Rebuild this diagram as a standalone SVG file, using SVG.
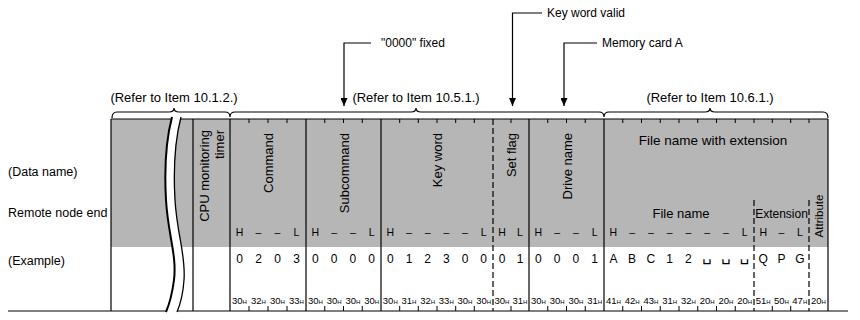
<svg xmlns="http://www.w3.org/2000/svg" width="860" height="320" viewBox="0 0 860 320">
<defs>
<style>
.t{font-family:"Liberation Sans",Arial,sans-serif;fill:#000}
.lbl{font-size:12.5px}
.ref{font-size:13px;text-anchor:middle}
.co{font-size:12px}
.hd{font-size:13px;text-anchor:end}
.hl{font-size:10.5px;text-anchor:middle}
.ex{font-size:12px;text-anchor:middle}
.hx{font-size:9.5px;text-anchor:middle}
.sub{font-size:6px}
.sp{font-family:"DejaVu Sans",sans-serif;font-size:15px}
.ln{stroke:#000;stroke-width:1.2;fill:none}
.dash{stroke-dasharray:6 3}
.tk{stroke:#000;stroke-width:1;fill:none}
</style>
<marker id="ah" markerWidth="8" markerHeight="7" refX="8" refY="3.5" orient="auto" markerUnits="userSpaceOnUse">
<path d="M0,0 L8,3.5 L0,7 Z" fill="#000"/>
</marker>
</defs>
<rect x="0" y="0" width="860" height="320" fill="#fff"/>

<!-- table body -->
<g id="table">
<rect x="111" y="119" width="717" height="128" fill="#b6b6b6"/>
<rect x="111" y="247" width="717" height="64" fill="#fff"/>
<line class="ln" x1="111" y1="119" x2="828" y2="119" stroke-width="2"/>
<line class="ln" x1="8" y1="311" x2="848" y2="311" stroke-width="1.5"/>
<line class="ln" x1="111" y1="119" x2="111" y2="311" stroke-width="1.5"/>
<line class="ln" x1="828" y1="119" x2="828" y2="311" stroke-width="1.5"/>
<line class="ln" x1="193" y1="119" x2="193" y2="311" stroke-width="1"/>
<line class="ln" x1="230" y1="119" x2="230" y2="311"/>
<line class="ln" x1="306" y1="119" x2="306" y2="311"/>
<line class="ln" x1="381" y1="119" x2="381" y2="311"/>
<line class="ln dash" x1="493" y1="119" x2="493" y2="311"/>
<line class="ln" x1="529" y1="119" x2="529" y2="311"/>
<line class="ln" x1="604" y1="119" x2="604" y2="311"/>
<line class="ln dash" x1="754" y1="200" x2="754" y2="311"/>
<line class="ln dash" x1="809" y1="200" x2="809" y2="311"/>
<path class="tk" d="M249,119v4M268,119v4M287,119v4M324.75,119v4M343.5,119v4M362.25,119v4M399.7,119v4M418.3,119v4M437,119v4M455.7,119v4M474.3,119v4M511,119v4M547.75,119v4M566.5,119v4M585.25,119v4M622.75,119v4M641.5,119v4M660.25,119v4M679,119v4M697.75,119v4M716.5,119v4M735.25,119v4M754,119v4M772.3,119v4M790.7,119v4M809,119v4"/>
<path class="tk" d="M249,311v-5M268,311v-5M287,311v-5M324.75,311v-5M343.5,311v-5M362.25,311v-5M399.7,311v-5M418.3,311v-5M437,311v-5M455.7,311v-5M474.3,311v-5M511,311v-5M547.75,311v-5M566.5,311v-5M585.25,311v-5M622.75,311v-5M641.5,311v-5M660.25,311v-5M679,311v-5M697.75,311v-5M716.5,311v-5M735.25,311v-5M772.3,311v-5M790.7,311v-5"/>
<!-- break -->
<path d="M172,116 C166,140 164,165 166,200 C168,235 177,255 174,280 C172,295 169,305 166,313 L177,313 C180,305 183,295 184,280 C186,255 177,235 175,200 C173,165 175,140 181,116 Z" fill="#fff"/>
<path d="M172,117 C166,140 164,165 166,200 C168,235 177,255 174,280 C172,295 169,305 166,312" fill="none" stroke="#000" stroke-width="2"/>
<path d="M181,117 C175,140 173,165 175,200 C177,235 186,255 184,280 C183,295 180,305 177,312" fill="none" stroke="#000" stroke-width="1.3"/>
</g>

<!-- braces -->
<g id="braces">
<path class="ln" d="M112,118 Q112,112 117,112 L169,112 Q174,112 174,108 Q174,112 179,112 L225,112 Q230,112 230,117 Q230,112 235,112 L411,112 Q416,112 416,108 Q416,112 421,112 L599,112 Q604,112 604,117 Q604,112 609,112 L705,112 Q710,112 710,108 Q710,112 715,112 L823,112 Q828,112 828,118"/>
</g>

<!-- row labels -->
<g id="row-data-name"><text class="t lbl" x="8" y="176">(Data name)</text></g>
<g id="row-remote"><text class="t lbl" x="8" y="217">Remote node end</text></g>
<g id="row-example"><text class="t lbl" x="8" y="265">(Example)</text></g>

<!-- refer labels -->
<g id="ref-1"><text class="t ref" x="174" y="102">(Refer to Item 10.1.2.)</text></g>
<g id="ref-2"><text class="t ref" x="416" y="102">(Refer to Item 10.5.1.)</text></g>
<g id="ref-3"><text class="t ref" x="710" y="102">(Refer to Item 10.6.1.)</text></g>

<!-- callouts -->
<g id="note-fixed"><text class="t co" x="381" y="47">"0000" fixed</text></g>
<g id="note-keyword"><text class="t co" x="547" y="17">Key word valid</text></g>
<g id="note-memcard"><text class="t co" x="602" y="47">Memory card A</text></g>

<g id="connectors">
<path class="ln" stroke-width="1" d="M371,43 H344 V106" marker-end="url(#ah)"/>
<path class="ln" stroke-width="1" d="M542,13 H512.5 V106" marker-end="url(#ah)"/>
<path class="ln" stroke-width="1" d="M597,43 H564 V106" marker-end="url(#ah)"/>
</g>

<!-- column headers -->
<g id="col-cpu">
<text class="t hd" transform="translate(208.5,130) rotate(-90)">CPU monitoring</text>
<text class="t hd" transform="translate(223.5,130) rotate(-90)">timer</text>
</g>
<g id="col-command">
<text class="t hd" transform="translate(272.5,133) rotate(-90)">Command</text>
<text class="t hl" x="239.5 258.5 277.5 296.5" y="236">H––L</text>
<text class="t ex" x="239.5 258.5 277.5 296.5" y="263">0203</text>
<text class="t hx" y="304"><tspan x="239.5">30<tspan class="sub">H</tspan></tspan><tspan x="258.5">32<tspan class="sub">H</tspan></tspan><tspan x="277.5">30<tspan class="sub">H</tspan></tspan><tspan x="296.5">33<tspan class="sub">H</tspan></tspan></text>
</g>
<g id="col-subcommand">
<text class="t hd" transform="translate(348.5,133) rotate(-90)">Subcommand</text>
<text class="t hl" x="315.4 334.1 352.9 371.6" y="236">H––L</text>
<text class="t ex" x="315.4 334.1 352.9 371.6" y="263">0000</text>
<text class="t hx" y="304"><tspan x="315.4">30<tspan class="sub">H</tspan></tspan><tspan x="334.1">30<tspan class="sub">H</tspan></tspan><tspan x="352.9">30<tspan class="sub">H</tspan></tspan><tspan x="371.6">30<tspan class="sub">H</tspan></tspan></text>
</g>
<g id="col-keyword">
<text class="t hd" transform="translate(441.5,133) rotate(-90)">Key word</text>
<text class="t hl" x="390.3 409 427.7 446.3 465 483.7" y="236">H––––L</text>
<text class="t ex" x="390.3 409 427.7 446.3 465 483.7" y="263">012300</text>
<text class="t hx" y="304"><tspan x="390.3">30<tspan class="sub">H</tspan></tspan><tspan x="409">31<tspan class="sub">H</tspan></tspan><tspan x="427.7">32<tspan class="sub">H</tspan></tspan><tspan x="446.3">33<tspan class="sub">H</tspan></tspan><tspan x="465">30<tspan class="sub">H</tspan></tspan><tspan x="483.7">30<tspan class="sub">H</tspan></tspan></text>
</g>
<g id="col-setflag">
<text class="t hd" transform="translate(515.5,133) rotate(-90)">Set flag</text>
<text class="t hl" x="502 520" y="236">HL</text>
<text class="t ex" x="502 520" y="263">01</text>
<text class="t hx" y="304"><tspan x="502">30<tspan class="sub">H</tspan></tspan><tspan x="520">31<tspan class="sub">H</tspan></tspan></text>
</g>
<g id="col-drive">
<text class="t hd" transform="translate(571.5,133) rotate(-90)">Drive name</text>
<text class="t hl" x="538.4 557.1 575.9 594.6" y="236">H––L</text>
<text class="t ex" x="538.4 557.1 575.9 594.6" y="263">0001</text>
<text class="t hx" y="304"><tspan x="538.4">30<tspan class="sub">H</tspan></tspan><tspan x="557.1">30<tspan class="sub">H</tspan></tspan><tspan x="575.9">30<tspan class="sub">H</tspan></tspan><tspan x="594.6">31<tspan class="sub">H</tspan></tspan></text>
</g>
<g id="col-filename">
<text class="t" x="713" y="145" font-size="13.5" text-anchor="middle">File name with extension</text>
<text class="t" x="681" y="218" font-size="13" text-anchor="middle">File name</text>
<text class="t hl" x="613.4 632.1 650.9 669.6 688.4 707.1 725.9 744.6" y="236">H––––––L</text>
<text class="t ex" x="613.4 632.1 650.9 669.6 688.4" y="263">ABC12</text>
<text class="t ex sp" x="707.1 725.9 744.6" y="261">␣␣␣</text>
<text class="t hx" y="304"><tspan x="613.4">41<tspan class="sub">H</tspan></tspan><tspan x="632.1">42<tspan class="sub">H</tspan></tspan><tspan x="650.9">43<tspan class="sub">H</tspan></tspan><tspan x="669.6">31<tspan class="sub">H</tspan></tspan><tspan x="688.4">32<tspan class="sub">H</tspan></tspan><tspan x="707.1">20<tspan class="sub">H</tspan></tspan><tspan x="725.9">20<tspan class="sub">H</tspan></tspan><tspan x="744.6">20<tspan class="sub">H</tspan></tspan></text>
</g>
<g id="col-extension">
<text class="t" x="781.5" y="218" font-size="12" text-anchor="middle">Extension</text>
<text class="t hl" x="763.2 781.5 799.8" y="236">H–L</text>
<text class="t ex" x="763.2 781.5 799.8" y="263">QPG</text>
<text class="t hx" y="304"><tspan x="763.2">51<tspan class="sub">H</tspan></tspan><tspan x="781.5">50<tspan class="sub">H</tspan></tspan><tspan x="799.8">47<tspan class="sub">H</tspan></tspan></text>
</g>
<g id="col-attribute">
<text class="t" font-size="11.5" text-anchor="middle" transform="translate(822.5,216) rotate(-90)">Attribute</text>
<text class="t hx" y="304"><tspan x="818.5">20<tspan class="sub">H</tspan></tspan></text>
</g>
</svg>
